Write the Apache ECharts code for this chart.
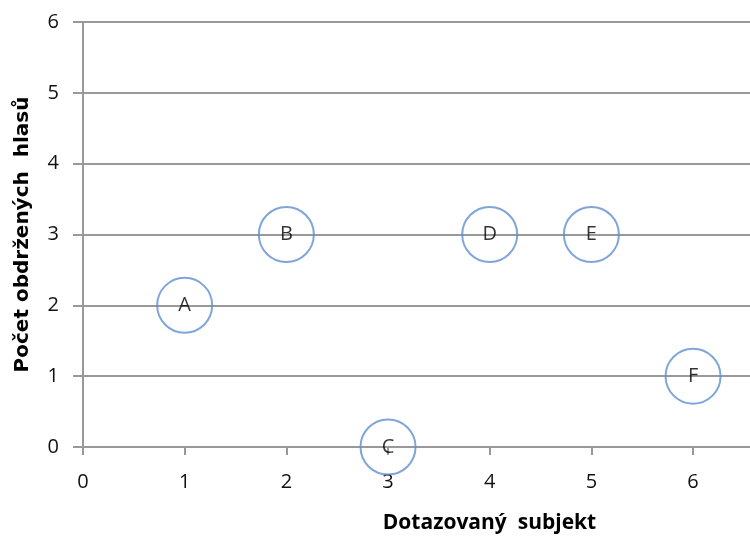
<!DOCTYPE html>
<html>
<head>
<meta charset="utf-8">
<script src="https://cdn.jsdelivr.net/npm/echarts@6/dist/echarts.min.js"></script>
<style>
html, body { margin: 0; padding: 0; background: #fff; }
#chart { width: 750px; height: 537px; }
</style>
</head>
<body>
<div id="chart"></div>
<script>
// subjects and their vote counts
var names = ['A', 'B', 'C', 'D', 'E', 'F'];
var subjects = [1, 2, 3, 4, 5, 6];
var votes = [2, 3, 0, 3, 3, 1];
var xTicks = [0, 1, 2, 3, 4, 5, 6];

var points = names.map(function (n, i) {
    return { name: n, value: [subjects[i], votes[i]] };
});

var myChart = echarts.init(document.getElementById('chart'));
var font = 'Open Sans, Liberation Sans, sans-serif';
var intOnly = function (v) { return Math.round(v) === v ? String(v) : ''; };
var option = {
    animation: false,
    grid: { left: 83, top: 22, bottom: 90, right: 0, outerBoundsMode: 'none' },
    xAxis: {
        type: 'value',
        min: 0, max: 6.56, interval: 1,
        name: 'Dotazovaný  subjekt',
        nameLocation: 'middle',
        nameGap: 66,
        nameTextStyle: { fontFamily: font, fontWeight: 'bold', fontSize: 21, color: '#000', padding: [0, 0, 0, 146] },
        axisLine: { lineStyle: { color: '#999', width: 2 } },
        axisTick: { show: true, length: 8, customValues: xTicks, lineStyle: { color: '#999', width: 2 } },
        axisLabel: { fontFamily: font, fontSize: 20, color: '#111', margin: 25, customValues: xTicks, formatter: intOnly },
        splitLine: { show: false }
    },
    yAxis: {
        type: 'value',
        min: 0, max: 6, interval: 1,
        name: 'Počet obdržených  hlasů',
        nameLocation: 'middle',
        nameGap: 50,
        nameTextStyle: { fontFamily: 'DejaVu Sans, sans-serif', fontWeight: 'bold', fontSize: 20, color: '#000' },
        axisLine: { show: true, lineStyle: { color: '#999', width: 2 } },
        axisTick: { show: true, length: 10, lineStyle: { color: '#999', width: 2 } },
        axisLabel: { fontFamily: font, fontSize: 20, color: '#111', margin: 24 },
        splitLine: { show: true, lineStyle: { color: '#999', width: 2 } }
    },
    series: [{
        type: 'scatter',
        data: points,
        symbol: 'circle',
        symbolSize: 55,
        clip: false,
        itemStyle: { color: 'rgba(255,255,255,0)', borderColor: '#5f8fd0', borderWidth: 2 },
        label: {
            show: true,
            position: 'inside',
            formatter: '{b}',
            fontFamily: font,
            fontSize: 20,
            color: '#000'
        }
    }]
};
myChart.setOption(option);
</script>
</body>
</html>
